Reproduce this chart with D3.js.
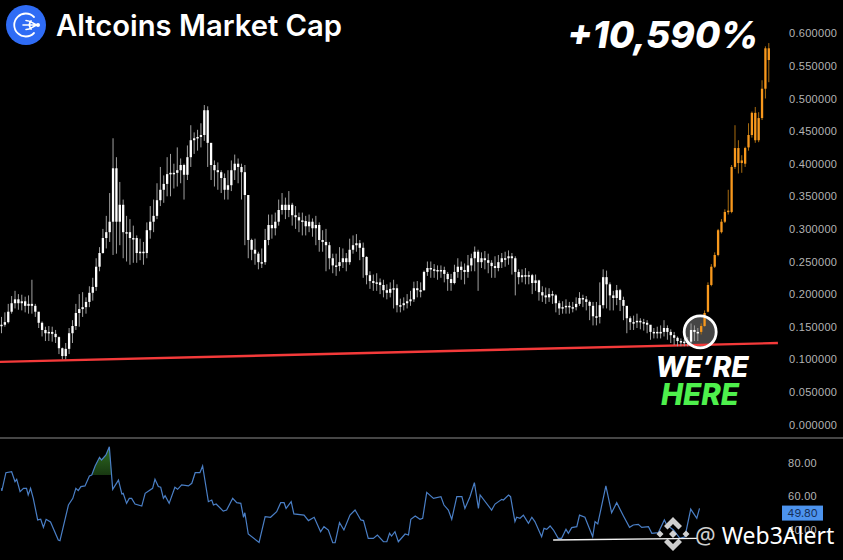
<!DOCTYPE html>
<html>
<head>
<meta charset="utf-8">
<title>Altcoins Market Cap</title>
<script src="https://cdnjs.cloudflare.com/ajax/libs/d3/7.8.5/d3.min.js"></script>
<style>
  html, body { margin: 0; padding: 0; background: #000; }
  svg { display: block; font-family: Inter, "Noto Sans", sans-serif; }
  .axis text { fill: #b4b4b4; font-size: 11px; letter-spacing: 0.3px; }
  .axis .domain { display: none; }
</style>
</head>
<body>
<div id="wrapper"></div>
<script>
// price candles (one per bar), white history
const closes = [
  .153,.157,.173,.186,.192,.186,.189,.182,.185,.182,
  .173,.156,.145,.140,.142,.139,.134,.117,.105,.116,
  .140,.151,.171,.177,.180,.188,.202,.211,.242,.263,
  .286,.295,.311,.393,.311,.337,.295,.295,.286,.286,
  .263,.265,.263,.298,.311,.320,.344,.360,.369,.384,
  .386,.386,.390,.398,.383,.410,.436,.439,.441,.444,
  .482,.432,.398,.390,.387,.378,.360,.367,.390,.400,
  .395,.387,.352,.283,.268,.262,.249,.249,.283,.306,
  .301,.311,.329,.337,.329,.337,.321,.318,.313,.312,
  .304,.311,.301,.306,.283,.280,.275,.255,.244,.243,
  .249,.255,.249,.268,.275,.278,.271,.257,.229,.220,
  .217,.218,.214,.206,.202,.208,.209,.183,.183,.186,
  .189,.192,.209,.206,.206,.234,.240,.238,.237,.235,
  .237,.231,.223,.217,.234,.242,.237,.234,.244,.255,
  .265,.249,.255,.252,.248,.243,.240,.249,.255,.255,
  .258,.255,.234,.226,.229,.228,.229,.217,.221,.203,
  .198,.195,.200,.198,.186,.178,.180,.182,.180,.180,
  .185,.194,.192,.188,.182,.166,.165,.183,.226,.215,
  .198,.194,.206,.191,.182,.163,.157,.157,.159,.157,
  .156,.153,.142,.140,.142,.142,.148,.142,.137,.133,
  .128,.127,.127,.127,.145,.142,.140,
]
const highs = [
  .165,.172,.185,.197,.205,.200,.199,.196,.198,.222,
  .185,.172,.158,.150,.151,.150,.145,.135,.118,.125,
  .148,.160,.185,.200,.203,.195,.212,.225,.255,.272,
  .300,.320,.355,.439,.410,.372,.345,.320,.315,.305,
  .290,.285,.280,.310,.335,.345,.370,.395,.382,.410,
  .415,.400,.425,.408,.400,.428,.459,.448,.452,.462,
  .490,.488,.416,.405,.402,.390,.385,.390,.405,.414,
  .408,.400,.398,.352,.285,.285,.265,.270,.300,.322,
  .322,.325,.345,.355,.348,.358,.340,.335,.325,.325,
  .320,.322,.316,.320,.310,.298,.300,.280,.262,.262,
  .272,.270,.263,.285,.290,.292,.283,.279,.258,.235,
  .230,.232,.224,.222,.215,.218,.222,.215,.193,.195,
  .200,.205,.219,.220,.218,.236,.250,.250,.246,.244,
  .244,.242,.234,.231,.245,.255,.250,.247,.260,.262,
  .273,.268,.264,.266,.262,.252,.258,.260,.263,.265,
  .267,.263,.258,.238,.238,.240,.235,.231,.230,.222,
  .212,.210,.209,.205,.200,.190,.189,.192,.188,.188,
  .195,.203,.199,.197,.190,.188,.188,.218,.238,.236,
  .218,.205,.214,.208,.196,.178,.166,.167,.170,.163,
  .162,.160,.150,.148,.150,.152,.160,.152,.146,.142,
  .135,.132,.131,.134,.155,.152,.148,
]
const lows = [
  .140,.150,.155,.170,.178,.176,.175,.172,.170,.170,
  .165,.148,.135,.128,.128,.127,.125,.108,.100,.100,
  .108,.125,.145,.150,.165,.170,.180,.190,.205,.235,
  .262,.270,.280,.260,.262,.275,.255,.250,.245,.248,
  .248,.252,.245,.255,.285,.295,.315,.335,.340,.350,
  .350,.362,.365,.370,.345,.375,.395,.415,.420,.425,
  .435,.395,.375,.365,.360,.355,.345,.345,.358,.375,
  .370,.345,.275,.255,.252,.245,.238,.240,.245,.275,
  .285,.290,.305,.322,.315,.318,.305,.300,.295,.290,
  .290,.295,.288,.275,.265,.265,.235,.238,.232,.228,
  .235,.240,.235,.245,.262,.265,.252,.225,.215,.208,
  .205,.205,.200,.195,.192,.195,.178,.172,.172,.175,
  .178,.182,.188,.195,.195,.205,.228,.225,.225,.222,
  .225,.218,.205,.205,.215,.225,.222,.215,.225,.235,
  .235,.205,.240,.238,.232,.225,.225,.235,.240,.242,
  .245,.230,.198,.215,.218,.215,.215,.200,.205,.190,
  .188,.185,.188,.185,.172,.168,.170,.170,.170,.172,
  .175,.182,.180,.175,.160,.152,.152,.155,.178,.178,
  .175,.175,.183,.174,.160,.140,.145,.145,.148,.146,
  .144,.140,.130,.132,.132,.132,.135,.130,.125,.122,
  .120,.120,.120,.120,.125,.128,.128,
]

// projected candles, orange
const projOpens  = [.142,.151,.173,.214,.242,.260,.295,.311,.326,.326,.395,.424,.401,.400,.425,.444,.478,.436,.470,.515,.577]
const projCloses = [.151,.171,.214,.242,.260,.298,.311,.326,.328,.395,.424,.401,.405,.424,.444,.478,.436,.470,.515,.577,.559]
const projHighs  = [.155,.175,.218,.246,.264,.300,.315,.330,.360,.398,.459,.436,.413,.426,.462,.480,.487,.479,.528,.580,.585]
const projLows   = [.138,.150,.172,.212,.240,.258,.293,.309,.322,.324,.392,.385,.386,.395,.420,.440,.432,.433,.467,.500,.525]

// support line under the price
const supportBars = [-0.45, 229.7]
const supportValues = [.096, .125]

// "we're here" marker
const hereBar = 206.7
const hereValue = .142

// RSI panel
const rsiBars = [
  0,0.1,1.3,3,4,4.5,5.5,6.5,7.4,7.9,8.6,9.4,10.7,11.6,12.4,13.2,14.5,16.8,17.3,19.8,
  21.1,22,22.7,23.5,24.7,26,26.7,27.7,29,29.6,30.9,31.9,32.9,34.6,35.6,36,37,37.8,38.5,39.5,
  41.5,42.5,44.7,45.4,46.4,47.1,47.9,48.4,49.6,51.3,52.1,53.3,55.3,56.3,57.3,58.7,59.5,61.2,62.2,62.7,
  63.5,65.6,66.6,68.4,69.6,70.8,71.6,72,73,76.2,78,79.6,81.4,82.6,83.6,84.2,85.7,86.5,89.5,90.8,
  92.5,94.4,95.4,96.7,98,98.7,100,101.3,103.1,104.6,106.3,107.1,108.5,110,111.2,113,114,114.8,115.4,116.4,
  117.4,119.4,120.4,121.1,122.4,123.8,124.6,125.8,127.8,130,130.9,132.2,133.2,134.7,136.2,137.1,138.6,139.9,141.1,141.6,
  145,146,148,148.5,150,150.6,151.9,152.4,153.4,154.4,155.9,156.9,157.8,159.8,160.5,161.3,162.3,163.3,164.7,165.7,
  167,167.7,168.7,170.2,171,172.6,174.9,175.6,176.4,178.8,180.5,182,184,185.8,186.9,188.4,189.4,191.4,192.4,194.3,
  196.1,196.8,198.8,200.7,202.2,203.9,205.7,206.5,
]
const rsiValues = [
  64.6,63,73.9,74.5,68.6,70,62.6,64.6,64.6,60.6,64.6,58.6,45.7,46.1,41.3,46.1,44.5,33.7,33.3,54.6,
  58.6,64.6,63.2,65.6,66,72,72.5,77.9,83.1,81.5,84.5,89.4,64,69.5,61.2,61.6,55.6,58.6,58.6,55.2,
  54,61.6,64.6,70,65.6,65.2,58.6,60.2,55.6,65.2,64,66.6,66,67.6,73.9,73.9,77.9,56.6,57.6,54.6,
  55.2,51,51.6,58.6,56,55.6,47.3,50,37.3,32.3,47.7,47.3,50.6,56,56,52.6,56.6,49.3,48.6,45.3,
  47.3,38.7,41.7,39.7,32.1,32.1,44.1,39.7,48.6,51.6,45.7,45.3,34.7,34.7,36.7,32.7,32.7,37.7,36.1,38.7,
  32.7,37.3,36.7,46.1,48.1,46.1,46.7,62.2,58.6,59.6,54.6,51.6,46.1,59.6,59.6,52.6,59.6,68,52.6,60.6,
  51.6,55.2,58,57.6,60.6,59.6,44.7,47.3,46.7,48.6,43.7,47.3,44.7,35.7,40.7,40.1,42.1,39.7,34.7,34.7,
  40.1,37.7,41.1,41.7,48.6,47.3,35.7,44.7,43.3,66,50,56,48.1,41.3,42.7,43.1,41.3,41.7,37.7,38.1,
  45.7,42.7,39.7,34.7,35.7,52.2,46.7,52.6,
]
const rsiOverbought = 72.5
const rsiTrendBars = [163.2, 205.8]
const rsiTrendValues = [33.7, 34.7]
const rsiLast = 49.8

// tick labels
const priceTicks = [0, .05, .1, .15, .2, .25, .3, .35, .4, .45, .5, .55, .6]
const rsiTicks = [40, 60, 80]

function drawChart() {
  const dimensions = {
    width: 843,
    height: 560,
    axisX: 786,
    separatorY: 438,
  }

  const wrapper = d3.select("#wrapper")
    .append("svg")
      .attr("width", dimensions.width)
      .attr("height", dimensions.height)

  wrapper.append("rect")
      .attr("width", dimensions.width)
      .attr("height", dimensions.height)
      .attr("fill", "#000")

  // scales
  const xScale = d3.scaleLinear()
    .domain([0, 227])
    .range([1.5, 768.8])

  const yScale = d3.scaleLinear()
    .domain([0, .6])
    .range([424.5, 33.3])

  const rsiScale = d3.scaleLinear()
    .domain([40, 80])
    .range([529.5, 462.5])

  const bodyWidth = 2.3

  // marker disc goes under the candles
  const hereX = xScale(hereBar)
  const hereY = yScale(hereValue)
  wrapper.append("circle")
      .attr("cx", hereX)
      .attr("cy", hereY)
      .attr("r", 16)
      .attr("fill", "#454545")

  // support line
  const supportLine = d3.line()
    .x(d => xScale(d[0]))
    .y(d => yScale(d[1]))

  wrapper.append("path")
      .attr("d", supportLine(d3.zip(supportBars, supportValues)))
      .attr("fill", "none")
      .attr("stroke", "#f43a3a")
      .attr("stroke-width", 2.4)

  // white candles
  const history = closes.map((close, i) => ({
    bar: i,
    open: i ? closes[i - 1] : close,
    close: close,
    high: highs[i],
    low: lows[i],
  }))

  const drawCandles = (candles, wickColor, bodyColor) => {
    const group = wrapper.append("g")
    group.selectAll("line")
      .data(candles)
      .join("line")
        .attr("x1", d => xScale(d.bar))
        .attr("x2", d => xScale(d.bar))
        .attr("y1", d => yScale(d.high))
        .attr("y2", d => yScale(d.low))
        .attr("stroke", wickColor)
        .attr("stroke-width", 1)
    group.selectAll("rect")
      .data(candles)
      .join("rect")
        .attr("x", d => xScale(d.bar) - bodyWidth / 2)
        .attr("y", d => yScale(Math.max(d.open, d.close)))
        .attr("width", bodyWidth)
        .attr("height", d => Math.max(1.5, Math.abs(yScale(d.open) - yScale(d.close))))
        .attr("fill", bodyColor)
  }
  drawCandles(history, "#a0a0a0", "#fff")

  // orange candles
  const projection = projCloses.map((close, i) => ({
    bar: closes.length + i,
    open: projOpens[i],
    close: close,
    high: projHighs[i],
    low: projLows[i],
  }))
  drawCandles(projection, "#a86c10", "#f7981d")

  wrapper.append("circle")
      .attr("cx", hereX)
      .attr("cy", hereY)
      .attr("r", 16)
      .attr("fill", "none")
      .attr("stroke", "#fff")
      .attr("stroke-width", 2.8)

  // price axis
  const priceAxis = d3.axisRight(yScale)
    .tickValues(priceTicks)
    .tickFormat(d3.format(".6f"))
    .tickSize(0)
    .tickPadding(3)

  wrapper.append("g")
      .attr("class", "axis")
      .attr("transform", `translate(${dimensions.axisX}, 0)`)
      .call(priceAxis)

  // panel separator
  wrapper.append("line")
      .attr("x1", 0)
      .attr("x2", dimensions.width)
      .attr("y1", dimensions.separatorY)
      .attr("y2", dimensions.separatorY)
      .attr("stroke", "#8c8c8c")
      .attr("stroke-width", 1.2)

  // RSI
  const rsiPoints = d3.zip(rsiBars, rsiValues)

  const defs = wrapper.append("defs")
  const gradient = defs.append("linearGradient")
      .attr("id", "rsi-fill")
      .attr("x1", 0).attr("x2", 0)
      .attr("y1", 0).attr("y2", 1)
  gradient.append("stop").attr("offset", "0%").attr("stop-color", "#2f6e22")
  gradient.append("stop").attr("offset", "100%").attr("stop-color", "#0c1c09")

  defs.append("clipPath")
      .attr("id", "rsi-clip")
    .append("rect")
      .attr("x", 0)
      .attr("y", 440)
      .attr("width", dimensions.width)
      .attr("height", rsiScale(rsiOverbought) - 440)

  const rsiArea = d3.area()
    .x(d => xScale(d[0]))
    .y0(rsiScale(rsiOverbought))
    .y1(d => rsiScale(d[1]))

  wrapper.append("path")
      .attr("d", rsiArea(rsiPoints.filter(d => d[0] >= 26 && d[0] <= 32.9)))
      .attr("fill", "url(#rsi-fill)")
      .attr("clip-path", "url(#rsi-clip)")

  const rsiLine = d3.line()
    .x(d => xScale(d[0]))
    .y(d => rsiScale(d[1]))

  wrapper.append("path")
      .attr("d", rsiLine(rsiPoints))
      .attr("fill", "none")
      .attr("stroke", "#4a7fc6")
      .attr("stroke-width", 1.2)

  wrapper.append("path")
      .attr("d", rsiLine(d3.zip(rsiTrendBars, rsiTrendValues)))
      .attr("fill", "none")
      .attr("stroke", "#f2f2f2")
      .attr("stroke-width", 1.4)

  const rsiAxis = d3.axisRight(rsiScale)
    .tickValues(rsiTicks)
    .tickFormat(d3.format(".2f"))
    .tickSize(0)
    .tickPadding(3)

  wrapper.append("g")
      .attr("class", "axis")
      .attr("transform", `translate(${dimensions.axisX - 1}, 0)`)
      .call(rsiAxis)

  // last RSI tag
  wrapper.append("rect")
      .attr("x", 782)
      .attr("y", rsiScale(rsiLast) - 7.5)
      .attr("width", 41)
      .attr("height", 15)
      .attr("fill", "#4c93ee")
  wrapper.append("text")
      .attr("x", 802.5)
      .attr("y", rsiScale(rsiLast))
      .attr("dy", "0.35em")
      .attr("text-anchor", "middle")
      .attr("fill", "#17305a")
      .style("font-size", "11px")
      .text(d3.format(".2f")(rsiLast))

  // header
  const logo = wrapper.append("g")
      .attr("transform", "translate(26, 25)")
  logo.append("circle")
      .attr("r", 20)
      .attr("fill", "#2f6cf5")
  logo.append("path")
      .attr("d", "M8 -8 A11.5 11.5 0 1 0 8 8 M5 -4 A6.5 6.5 0 0 0 5 4")
      .attr("fill", "none")
      .attr("stroke", "#fff")
      .attr("stroke-width", 1.8)
      .attr("stroke-linecap", "round")
  logo.append("path")
      .attr("d", "M-3 0 H11 M0 -4.5 C5 -4.5 7 -1 11 0 M0 4.5 C5 4.5 7 1 11 0")
      .attr("fill", "none")
      .attr("stroke", "#fff")
      .attr("stroke-width", 1.6)
      .attr("stroke-linecap", "round")
  logo.append("circle")
      .attr("cx", 12)
      .attr("r", 2)
      .attr("fill", "#fff")

  wrapper.append("text")
      .attr("x", 56)
      .attr("y", 36)
      .attr("fill", "#fff")
      .style("font-size", "29.2px")
      .style("font-weight", 600)
      .text("Altcoins Market Cap")

  wrapper.append("text")
      .attr("x", 567)
      .attr("y", 48)
      .attr("fill", "#fff")
      .style("font-size", "37px")
      .style("font-weight", 800)
      .style("font-style", "italic")
      .text("+10,590%")

  wrapper.append("text")
      .attr("x", 702)
      .attr("y", 377)
      .attr("text-anchor", "middle")
      .attr("fill", "#fff")
      .style("font-size", "28px")
      .style("font-weight", 800)
      .style("font-style", "italic")
      .text("WE’RE")

  wrapper.append("text")
      .attr("x", 700)
      .attr("y", 405)
      .attr("text-anchor", "middle")
      .attr("fill", "#4ef04c")
      .style("font-size", "29.5px")
      .style("font-weight", 800)
      .style("font-style", "italic")
      .text("HERE")

  // watermark
  const mark = wrapper.append("g")
      .attr("transform", "translate(673, 534)")
      .attr("fill", "#cfcfcf")
  mark.append("path")
      .attr("d", "M0 -17 L9 -8 L5.5 -4.5 L0 -10 L-5.5 -4.5 L-9 -8 Z M0 17 L9 8 L5.5 4.5 L0 10 L-5.5 4.5 L-9 8 Z M0 -4 L4 0 L0 4 L-4 0 Z M-13 -3.5 L-9.5 0 L-13 3.5 L-16.5 0 Z M13 -3.5 L16.5 0 L13 3.5 L9.5 0 Z")

  const watermark = wrapper.append("text")
      .attr("x", 695)
      .attr("y", 544)
      .style("font-family", "'Noto Sans', sans-serif")
      .style("font-size", "23px")
  watermark.append("tspan")
      .attr("fill", "#cfcfcf")
      .text("@ ")
  watermark.append("tspan")
      .attr("fill", "#fff")
      .text("Web3Alert")
}
drawChart()
</script>
</body>
</html>
